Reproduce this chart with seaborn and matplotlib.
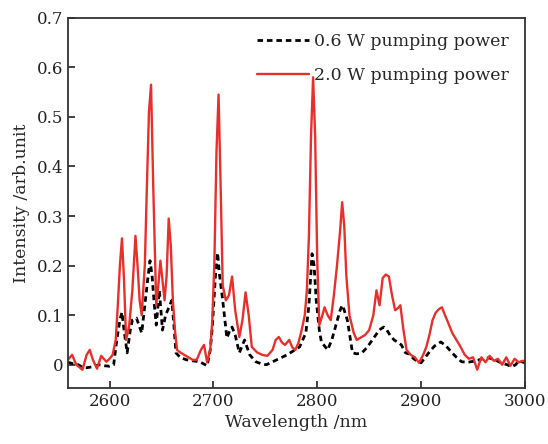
import matplotlib
matplotlib.use("Agg")
import matplotlib.pyplot as plt
import pandas as pd
import seaborn as sns

# 2.0 W pumping power (red, solid)
red_wl = [2560, 2564, 2568, 2571, 2574, 2578, 2581, 2584, 2588, 2592, 2597, 2600,
          2603, 2606, 2608, 2610, 2612, 2614, 2616, 2619, 2622, 2625, 2627, 2629,
          2631, 2634, 2636, 2638, 2640, 2642, 2645, 2647, 2649, 2651, 2653, 2655,
          2657, 2659, 2661, 2663, 2665, 2668, 2672, 2676, 2680, 2684, 2688, 2691,
          2694, 2697, 2699, 2701, 2703, 2705, 2707, 2709, 2712, 2715, 2718, 2721,
          2725, 2728, 2731, 2734, 2737, 2742, 2747, 2752, 2757, 2760, 2763, 2766,
          2769, 2773, 2776, 2779, 2782, 2785, 2788, 2790, 2792, 2794, 2796, 2798,
          2800, 2802, 2805, 2807, 2810, 2813, 2816, 2819, 2822, 2824, 2826, 2828,
          2831, 2835, 2838, 2842, 2846, 2850, 2854, 2857, 2860, 2863, 2866, 2869,
          2872, 2875, 2878, 2880, 2883, 2886, 2890, 2894, 2898, 2902, 2905, 2908,
          2911, 2914, 2917, 2920, 2923, 2926, 2930, 2934, 2938, 2942, 2946, 2950,
          2954, 2958, 2962, 2966, 2970, 2974, 2978, 2982, 2986, 2990, 2994, 2998,
          3000]
red_int = [0.010, 0.020, 0.000, -0.005, -0.010, 0.020, 0.030, 0.010, -0.008, 0.018, 0.006, 0.012,
           0.020, 0.050, 0.120, 0.200, 0.255, 0.170, 0.050, 0.080, 0.150, 0.260, 0.200, 0.130,
           0.100, 0.200, 0.360, 0.510, 0.565, 0.370, 0.120, 0.160, 0.210, 0.170, 0.130, 0.180,
           0.295, 0.240, 0.130, 0.070, 0.030, 0.025, 0.020, 0.015, 0.010, 0.010, 0.030, 0.040,
           0.005, 0.030, 0.090, 0.210, 0.430, 0.545, 0.360, 0.160, 0.130, 0.140, 0.178, 0.110,
           0.056, 0.090, 0.146, 0.100, 0.036, 0.025, 0.020, 0.018, 0.030, 0.050, 0.056, 0.045,
           0.040, 0.050, 0.035, 0.030, 0.045, 0.070, 0.100, 0.150, 0.260, 0.460, 0.580, 0.460,
           0.210, 0.080, 0.100, 0.116, 0.100, 0.090, 0.140, 0.200, 0.270, 0.328, 0.280, 0.180,
           0.100, 0.065, 0.050, 0.055, 0.060, 0.070, 0.100, 0.150, 0.120, 0.175, 0.182, 0.178,
           0.140, 0.110, 0.115, 0.120, 0.070, 0.030, 0.020, 0.015, 0.004, 0.020, 0.036, 0.060,
           0.090, 0.105, 0.112, 0.116, 0.100, 0.085, 0.064, 0.050, 0.036, 0.020, 0.012, 0.015,
           -0.010, 0.015, 0.005, 0.018, 0.008, 0.012, 0.000, 0.015, -0.002, 0.012, 0.005, 0.008,
           0.007]

# 0.6 W pumping power (black, dashed)
black_wl = [2560, 2565, 2570, 2574, 2578, 2584, 2590, 2595, 2600, 2604, 2607, 2610,
            2612, 2614, 2617, 2620, 2622, 2626, 2631, 2634, 2637, 2639, 2641, 2643,
            2645, 2648, 2651, 2654, 2657, 2660, 2662, 2664, 2668, 2674, 2680, 2687,
            2694, 2697, 2699, 2702, 2704, 2706, 2709, 2713, 2716, 2718, 2721, 2725,
            2730, 2735, 2741, 2746, 2751, 2756, 2761, 2766, 2771, 2777, 2783, 2789,
            2792, 2795, 2797, 2799, 2802, 2804, 2810, 2814, 2818, 2822, 2824, 2826,
            2829, 2832, 2834, 2838, 2843, 2848, 2853, 2858, 2861, 2864, 2867, 2870,
            2874, 2878, 2881, 2885, 2888, 2893, 2897, 2900, 2904, 2908, 2913, 2919,
            2924, 2929, 2934, 2939, 2945, 2953, 2959, 2965, 2971, 2977, 2983, 2987,
            2991, 2994, 3000]
black_int = [0.005, 0.002, 0.000, -0.005, -0.006, -0.004, 0.000, -0.002, -0.003, 0.000, 0.050, 0.090,
             0.106, 0.070, 0.024, 0.070, 0.090, 0.094, 0.064, 0.120, 0.176, 0.210, 0.180, 0.124,
             0.080, 0.150, 0.070, 0.100, 0.115, 0.130, 0.080, 0.024, 0.015, 0.010, 0.008, 0.006,
             -0.002, 0.030, 0.076, 0.180, 0.226, 0.180, 0.130, 0.054, 0.070, 0.076, 0.060, 0.024,
             0.050, 0.020, 0.006, 0.002, 0.000, 0.005, 0.010, 0.015, 0.020, 0.028, 0.036, 0.064,
             0.120, 0.224, 0.200, 0.130, 0.070, 0.046, 0.030, 0.050, 0.080, 0.110, 0.120, 0.110,
             0.090, 0.050, 0.024, 0.022, 0.024, 0.035, 0.050, 0.065, 0.072, 0.076, 0.070, 0.060,
             0.050, 0.045, 0.040, 0.024, 0.022, 0.012, 0.006, 0.004, 0.015, 0.026, 0.038, 0.046,
             0.038, 0.026, 0.015, 0.006, 0.005, 0.008, 0.012, 0.014, 0.010, 0.004, 0.000, -0.004,
             0.000, 0.008, 0.004]

x_ticks = [2600, 2700, 2800, 2900, 3000]
y_ticks = [0, 0.1, 0.2, 0.3, 0.4, 0.5, 0.6, 0.7]
y_tick_labels = ["0", "0.1", "0.2", "0.3", "0.4", "0.5", "0.6", "0.7"]

sns.set_theme(style="ticks")
plt.rcParams["font.family"] = ["DejaVu Serif"]
plt.rcParams["axes.edgecolor"] = "#333333"

black = pd.DataFrame({"wavelength": black_wl, "intensity": black_int})
red = pd.DataFrame({"wavelength": red_wl, "intensity": red_int})

fig = plt.figure(figsize=(5.48, 4.44), dpi=100)
ax = fig.add_axes([0.124, 0.126, 0.834, 0.834])

sns.lineplot(data=black, x="wavelength", y="intensity", ax=ax, color="black",
             linewidth=2.0, label="0.6 W pumping power")
ax.lines[-1].set_dashes((2.0, 1.4))
sns.lineplot(data=red, x="wavelength", y="intensity", ax=ax, color="#e8302a",
             linewidth=1.7, label="2.0 W pumping power")

ax.set_xlim(2560, 3000)
ax.set_ylim(-0.047, 0.69)
ax.set_xticks(x_ticks)
ax.set_yticks(y_ticks)
ax.set_yticklabels(y_tick_labels)
ax.tick_params(direction="in", length=5, width=1.2, labelsize=12, colors="#222222",
               top=False, right=False)
for spine in ax.spines.values():
    spine.set_linewidth(1.3)
    spine.set_visible(True)

ax.set_xlabel("Wavelength /nm", fontsize=12.5, labelpad=3)
ax.set_ylabel("Intensity /arb.unit", fontsize=12.5, labelpad=5)

ax.legend(loc="upper right", frameon=False, fontsize=12.5, handlelength=3.0,
          labelspacing=0.95, borderaxespad=0.5, handletextpad=0.3)

fig.savefig("out.png", dpi=100)
